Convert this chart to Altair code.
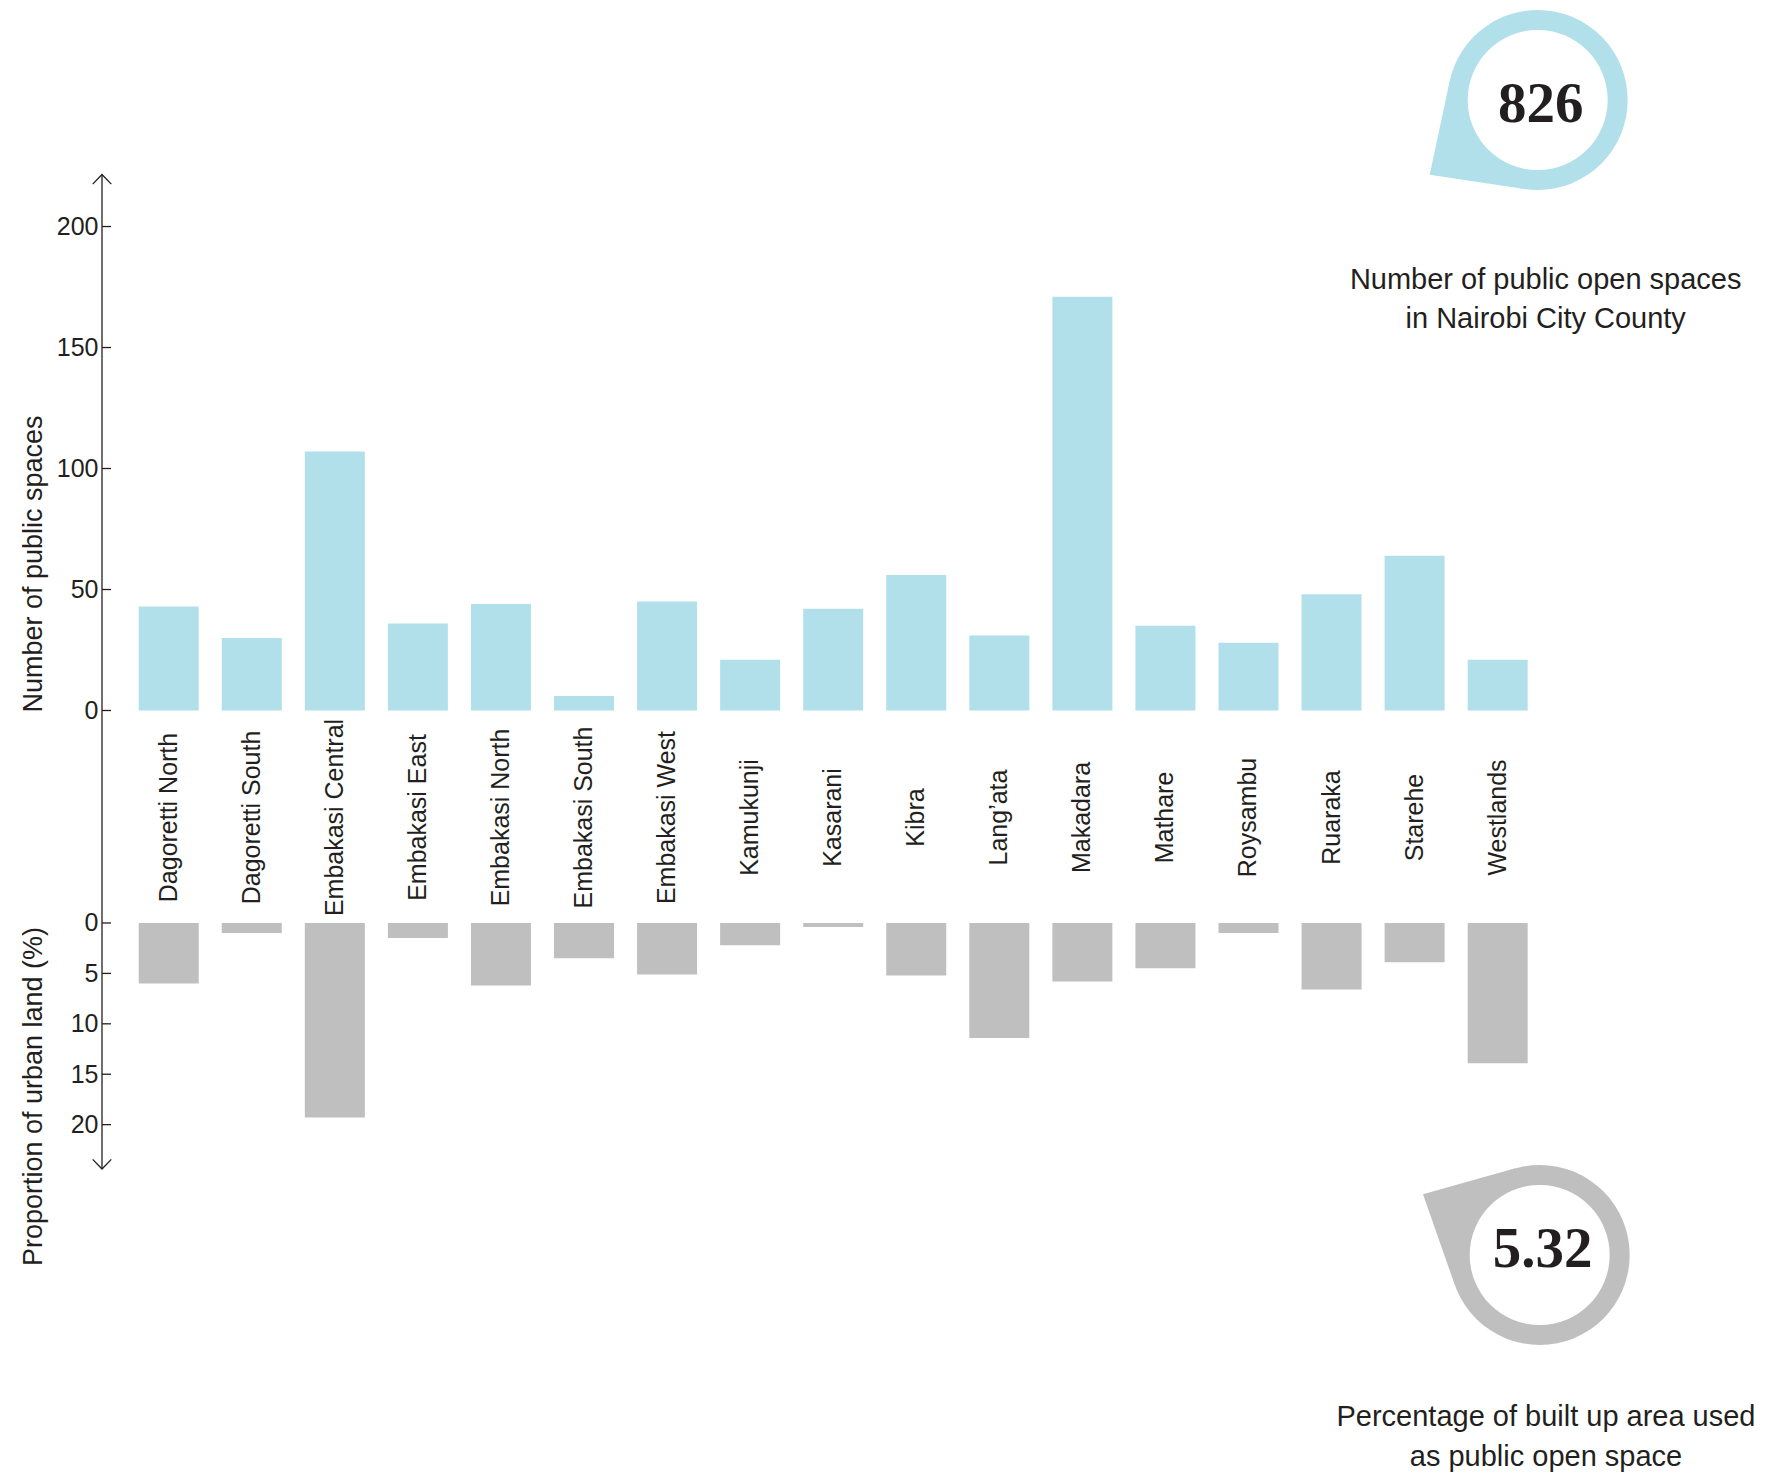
import math
import altair as alt
import pandas as pd

# ---------------- data ----------------
districts = ["Dagoretti North", "Dagoretti South", "Embakasi Central", "Embakasi East",
             "Embakasi North", "Embakasi South", "Embakasi West", "Kamukunji", "Kasarani",
             "Kibra", "Lang\u2019ata", "Makadara", "Mathare", "Roysambu", "Ruaraka",
             "Starehe", "Westlands"]
public_spaces = [43, 30, 107, 36, 44, 6, 45, 21, 42, 56, 31, 171, 35, 28, 48, 64, 21]
urban_land_pct = [6.0, 1.0, 19.3, 1.5, 6.2, 3.5, 5.1, 2.2, 0.4, 5.2, 11.4, 5.8, 4.5, 1.0, 6.6, 3.9, 13.9]

top_ticks = [0, 50, 100, 150, 200]
bottom_ticks = [0, 5, 10, 15, 20]

top_title = "Number of public spaces"
bottom_title = "Proportion of urban land (%)"
top_big = "826"
top_caption = ["Number of public open spaces", "in Nairobi City County"]
bottom_big = "5.32"
bottom_caption = ["Percentage of built up area used", "as public open space"]

# ---------------- styling ----------------
INK = "#231f20"
BLUE = "#b2e0ea"
GREY = "#bfbfbf"
FONT = "Liberation Sans"
NUMFONT = "Liberation Serif"

W = 1462.4
H_TOP = 536
H_BOT = 246
GAP = 212.5
R_OUT = 90
R_IN = 70

df = pd.DataFrame({"district": districts, "spaces": public_spaces, "urban": urban_land_pct})
ticks_top = pd.DataFrame({"spaces": top_ticks})
ticks_bot = pd.DataFrame({"urban": bottom_ticks})
one = pd.DataFrame({"k": [0]})

xscale = alt.Scale(domain=districts, paddingInner=0.2776, paddingOuter=0.442)
top_y = alt.Scale(domain=[0, 221.5], nice=False)
bot_y = alt.Scale(domain=[0, 24.4], nice=False, reverse=True)

label_expr = "length(datum.label) < 2 ? datum.label + '\u00a0' : datum.label"


def yaxis(title, title_y, values):
    return alt.Axis(title=title, values=values, titleX=-60, titleY=title_y, titleAngle=270,
                    titleAlign="center", titleBaseline="alphabetic",
                    titleFont=FONT, titleFontSize=27, titleFontWeight="normal",
                    titleColor=INK, labelFont=FONT, labelFontSize=25, labelColor=INK,
                    labelPadding=4, labelBaseline="middle", labelExpr=label_expr,
                    ticks=False, tickSize=0, domain=False, grid=False)


def tail_path(tx, ty, r):
    d = math.hypot(tx, ty)
    a = math.acos(r / d)
    phi = math.atan2(ty, tx)
    ax, ay = r * math.cos(phi + a), r * math.sin(phi + a)
    bx, by = r * math.cos(phi - a), r * math.sin(phi - a)
    return f"M {tx:.2f} {ty:.2f} L {ax:.2f} {ay:.2f} L {bx:.2f} {by:.2f} Z"


def badge(cx, cy, tip, color, big, caption, cap_x, cap_y, num_y):
    tail = alt.Chart(one).mark_point(shape=tail_path(tip[0], tip[1], R_OUT), size=4,
                                     filled=True, color=color, opacity=1, strokeWidth=0
                                     ).encode(x=alt.value(cx), y=alt.value(cy))
    outer = alt.Chart(one).mark_point(shape="circle", size=(2 * R_OUT) ** 2, filled=True,
                                      color=color, opacity=1, strokeWidth=0
                                      ).encode(x=alt.value(cx), y=alt.value(cy))
    inner = alt.Chart(one).mark_point(shape="circle", size=(2 * R_IN) ** 2, filled=True,
                                      color="white", opacity=1, strokeWidth=0
                                      ).encode(x=alt.value(cx), y=alt.value(cy))
    num = alt.Chart(one).mark_text(text=big, font=NUMFONT, fontSize=57, fontWeight="bold",
                                   color=INK, align="center", baseline="alphabetic"
                                   ).encode(x=alt.value(cx + 3), y=alt.value(num_y))
    cap = alt.Chart(one).mark_text(text=caption, font=FONT, fontSize=29, lineHeight=40,
                                   color=INK, align="center", baseline="alphabetic"
                                   ).encode(x=alt.value(cap_x), y=alt.value(cap_y))
    return [tail, outer, inner, num, cap]


top_axis = yaxis(top_title, 389, top_ticks)
bot_axis = yaxis(bottom_title, 173, bottom_ticks)

# ---------------- top panel ----------------
top_bars = alt.Chart(df).mark_bar(color=BLUE).encode(
    x=alt.X("district:N", scale=xscale, sort=districts,
            axis=alt.Axis(title=None, labelAngle=270, labelAlign="center",
                          labelBaseline="middle", labelPadding=106.5, ticks=False,
                          domain=False, labelFont=FONT, labelFontSize=25,
                          labelColor=INK, labelOverlap=False, labelLimit=400)),
    y=alt.Y("spaces:Q", scale=top_y, axis=top_axis),
)
top_tick_marks = alt.Chart(ticks_top).mark_rule(color=INK, strokeWidth=1.3).encode(
    y=alt.Y("spaces:Q", scale=top_y, axis=top_axis), x=alt.value(0), x2=alt.value(9))
axis_line = alt.Chart(one).mark_rule(color=INK, strokeWidth=1.3).encode(
    x=alt.value(0), y=alt.value(0), y2=alt.value(H_TOP + GAP + H_BOT))
top_arrow = alt.Chart(one).mark_point(shape="M -9.3 9.6 L 0 0 L 9.3 9.6", size=4,
                                      filled=False, color=INK, strokeWidth=1.3, opacity=1
                                      ).encode(x=alt.value(0), y=alt.value(0))

top_layers = [top_bars, top_tick_marks, axis_line, top_arrow] + badge(
    1435.7, -74.5, (-108, 74.8), BLUE, top_big, top_caption, 1443.7, 114, -53)
top = alt.layer(*top_layers).properties(width=W, height=H_TOP)

# ---------------- bottom panel ----------------
bot_bars = alt.Chart(df).mark_bar(color=GREY).encode(
    x=alt.X("district:N", scale=xscale, sort=districts, axis=None),
    y=alt.Y("urban:Q", scale=bot_y, axis=bot_axis),
)
bot_tick_marks = alt.Chart(ticks_bot).mark_rule(color=INK, strokeWidth=1.3).encode(
    y=alt.Y("urban:Q", scale=bot_y, axis=bot_axis), x=alt.value(0), x2=alt.value(9))
bot_arrow = alt.Chart(one).mark_point(shape="M -9.3 -9.6 L 0 0 L 9.3 -9.6", size=4,
                                      filled=False, color=INK, strokeWidth=1.3, opacity=1
                                      ).encode(x=alt.value(0), y=alt.value(H_BOT))

bot_layers = [bot_bars, bot_tick_marks, bot_arrow] + badge(
    1437.7, 332, (-116.7, -60.7), GREY, bottom_big, bottom_caption, 1444, 503, 344)
bottom = alt.layer(*bot_layers).properties(width=W, height=H_BOT)

chart = alt.vconcat(top, bottom, spacing=GAP, bounds="flush").properties(
    padding={"left": 11, "top": 1.5, "right": 2, "bottom": 2}
).configure(font=FONT).configure_view(strokeWidth=0)

chart.save("out.html", embed_options={"renderer": "svg", "actions": False})
